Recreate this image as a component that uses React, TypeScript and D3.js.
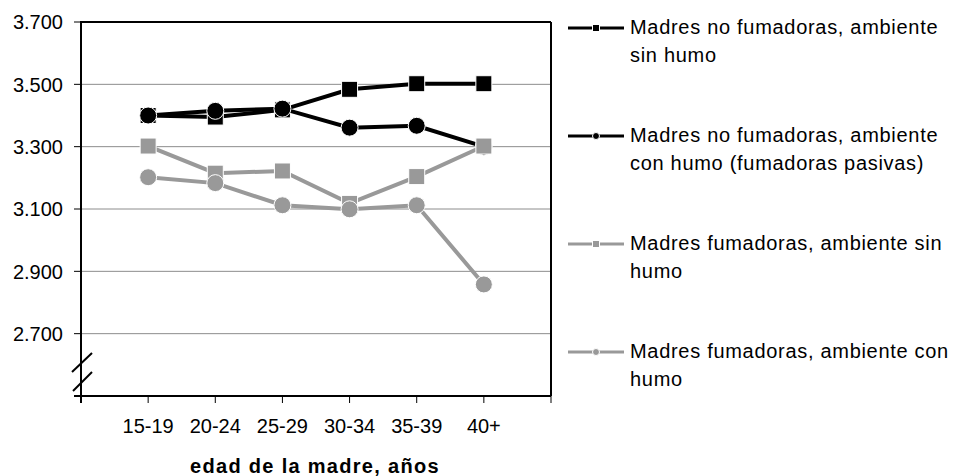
import React from "react";
import * as d3 from "d3";

const categories = ["15-19", "20-24", "25-29", "30-34", "35-39", "40+"];
const noFumSinHumo = [3400, 3395, 3418, 3484, 3502, 3502];
const noFumConHumo = [3400, 3415, 3422, 3361, 3367, 3300];
const fumSinHumo = [3302, 3215, 3222, 3118, 3204, 3302];
const fumConHumo = [3202, 3183, 3112, 3099, 3112, 2858];
const yTicks = [2700, 2900, 3100, 3300, 3500, 3700];
const yTickLabels = ["2.700", "2.900", "3.100", "3.300", "3.500", "3.700"];
const seriesNames = [
  ["Madres no fumadoras, ambiente", "sin humo"],
  ["Madres no fumadoras, ambiente", "con humo (fumadoras pasivas)"],
  ["Madres fumadoras, ambiente sin", "humo"],
  ["Madres fumadoras, ambiente con", "humo"],
];

const series = [
  { values: noFumSinHumo, color: "#000000", shape: "square", name: seriesNames[0] },
  { values: noFumConHumo, color: "#000000", shape: "circle", name: seriesNames[1] },
  { values: fumSinHumo, color: "#999999", shape: "square", name: seriesNames[2] },
  { values: fumConHumo, color: "#999999", shape: "circle", name: seriesNames[3] },
];

const FONT = "'Liberation Sans', Arial, sans-serif";

export default function App() {
  const left = 81, right = 551, top = 22, bottom = 396;
  const x = d3.scaleLinear().domain([0, categories.length + 1]).range([left, right]);
  const y = d3.scaleLinear().domain([2500, 3700]).range([bottom, top]);
  const line = d3
    .line<number>()
    .x((_, i) => x(i + 1))
    .y((d) => y(d));
  const xTickIdx = d3.range(0, categories.length + 2);

  return (
    <svg
      width={954}
      height={476}
      style={{ position: "absolute", left: 0, top: 0, background: "#fff" }}
      fontFamily={FONT}
    >
      <rect x={0} y={0} width={954} height={476} fill="#fff" />
      {yTicks.slice(0, -1).map((t) => (
        <line key={t} x1={left} x2={right} y1={y(t)} y2={y(t)} stroke="#8c8c8c" strokeWidth={1} />
      ))}
      {[2500, ...yTicks].map((t) => (
        <line key={"yt" + t} x1={left - 7} x2={left} y1={y(t)} y2={y(t)} stroke="#000" strokeWidth={1} />
      ))}
      {yTicks.map((t, i) => (
        <text key={"yl" + t} x={63} y={y(t)} dy="0.36em" textAnchor="end" fontSize={20} fill="#000">
          {yTickLabels[i]}
        </text>
      ))}
      {xTickIdx.map((i) => (
        <line key={"xt" + i} x1={x(i)} x2={x(i)} y1={bottom} y2={bottom + 7} stroke="#000" strokeWidth={1} />
      ))}
      {categories.map((c, i) => (
        <text key={c} x={x(i + 1)} y={433} textAnchor="middle" fontSize={20} fill="#000">
          {c}
        </text>
      ))}
      <text x={315} y={473} textAnchor="middle" fontSize={20} fontWeight="bold" letterSpacing={1.3} fill="#000">
        edad de la madre, años
      </text>
      <line x1={left} x2={right} y1={top} y2={top} stroke="#000" strokeWidth={2} />
      <line x1={right} x2={right} y1={top} y2={bottom} stroke="#000" strokeWidth={2} />
      <line x1={left} x2={left} y1={top - 1} y2={bottom + 7} stroke="#000" strokeWidth={2} />
      <line x1={left - 7} x2={right} y1={bottom} y2={bottom} stroke="#000" strokeWidth={2} />
      <line x1={72} y1={372} x2={92} y2={353} stroke="#000" strokeWidth={2} />
      <line x1={73} y1={391} x2={92} y2={372} stroke="#000" strokeWidth={2} />
      {series.map((s, si) => (
        <g key={"s" + si}>
          <path d={line(s.values) || ""} fill="none" stroke={s.color} strokeWidth={4} />
          {s.values.map((v, i) =>
            s.shape === "square" ? (
              <rect
                key={i}
                x={x(i + 1) - 8}
                y={y(v) - 8}
                width={16}
                height={16}
                fill={s.color}
                stroke="#fff"
                strokeWidth={1}
              />
            ) : (
              <circle key={i} cx={x(i + 1)} cy={y(v)} r={8.5} fill={s.color} stroke="#fff" strokeWidth={1} />
            )
          )}
        </g>
      ))}
      {series.map((s, si) => {
        const by = 34 + si * 108;
        const sy = by - 6;
        return (
          <g key={"lg" + si}>
            <line x1={568} x2={624} y1={sy} y2={sy} stroke={s.color} strokeWidth={3} />
            {s.shape === "square" ? (
              <rect x={596 - 3.5} y={sy - 3.5} width={7} height={7} fill={s.color} stroke="#fff" strokeWidth={1} />
            ) : (
              <circle cx={596} cy={sy} r={3.5} fill={s.color} stroke="#fff" strokeWidth={1} />
            )}
            <text x={630} y={by} fontSize={20} letterSpacing={0.7} fill="#000">
              {s.name[0]}
            </text>
            <text x={630} y={by + 28} fontSize={20} letterSpacing={0.7} fill="#000">
              {s.name[1]}
            </text>
          </g>
        );
      })}
    </svg>
  );
}
